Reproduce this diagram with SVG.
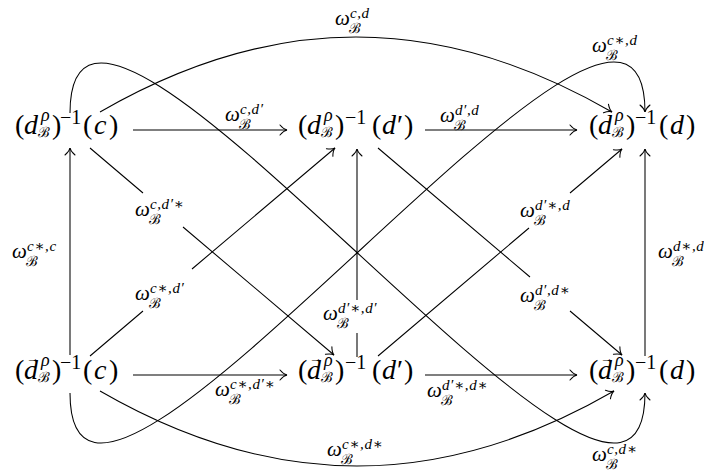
<svg xmlns="http://www.w3.org/2000/svg" width="704" height="473" viewBox="0 0 704 473">
<style>
.t{font-family:"Liberation Serif","DejaVu Serif",serif;fill:#000}
.m{font-size:28px}
.i{font-style:italic}
.sp{font-size:18px}
.mi{font-size:20px}
.cal{font-size:14px;font-style:normal}
.l{font-size:21px;font-style:italic}
.sc{font-size:15px;font-style:italic;letter-spacing:0.6px}
.vec{font-size:14px;font-style:normal}
.c line,.c path{stroke:#000;stroke-width:1.05;fill:none}
</style>
<defs>
<marker id="ah" viewBox="-8 -6 10 12" refX="0" refY="0" markerWidth="10" markerHeight="12" markerUnits="userSpaceOnUse" orient="auto">
<path d="M-7,-5 C-4.5,-2 -2,-0.4 0,0 C-2,0.4 -4.5,2 -7,5" fill="none" stroke="#000" stroke-width="1.05" stroke-linecap="round"/>
</marker>
</defs>
<rect width="704" height="473" fill="#fff"/>
<g id="connectors" class="c">
<line x1="133" y1="130" x2="287" y2="130" marker-end="url(#ah)"/>
<line x1="425" y1="130" x2="577" y2="130" marker-end="url(#ah)"/>
<line x1="133" y1="375" x2="287" y2="375" marker-end="url(#ah)"/>
<line x1="425" y1="375" x2="577" y2="375" marker-end="url(#ah)"/>
<line x1="70" y1="355" x2="70" y2="148" marker-end="url(#ah)"/>
<path d="M357,357 V333 M357,300 V149" marker-end="url(#ah)"/>
<line x1="645" y1="356" x2="645" y2="149" marker-end="url(#ah)"/>
<path d="M90,148 L143,193 M183,227 L334,355" marker-end="url(#ah)"/>
<path d="M90,356 L143,311 M192,269 L335,148" marker-end="url(#ah)"/>
<path d="M378,148 L530,277 M570,311 L622,355" marker-end="url(#ah)"/>
<path d="M378,356 L529,228 M570,193 L622,149" marker-end="url(#ah)"/>
<path d="M100,112 C273,12 439,12 612,112" marker-end="url(#ah)"/>
<path d="M100,391 C273,491 441,491 614,391" marker-end="url(#ah)"/>
<path d="M70,113 C70,-137 645,643 645,393" marker-end="url(#ah)"/>
<path d="M70,393 C70,643 645,-138 645,112" marker-end="url(#ah)"/>
</g>
<g id="labels" class="t">
<text><tspan class="l" x="335" y="25">ω</tspan><tspan class="sc" x="350" y="18">c,d</tspan><tspan class="cal" x="349" y="33">ℬ</tspan></text>
<text><tspan class="l" x="592" y="52">ω</tspan><tspan class="sc" x="607" y="45">c∗,d</tspan><tspan class="cal" x="606" y="60">ℬ</tspan></text>
<text><tspan class="l" x="225" y="121">ω</tspan><tspan class="sc" x="240" y="114">c,d′</tspan><tspan class="cal" x="239" y="129">ℬ</tspan></text>
<text><tspan class="l" x="440" y="122">ω</tspan><tspan class="sc" x="455" y="115">d′,d</tspan><tspan class="cal" x="454" y="130">ℬ</tspan></text>
<text><tspan class="l" x="135" y="216">ω</tspan><tspan class="sc" x="150" y="209">c,d′∗</tspan><tspan class="cal" x="149" y="224">ℬ</tspan></text>
<text><tspan class="l" x="135" y="300">ω</tspan><tspan class="sc" x="150" y="293">c∗,d′</tspan><tspan class="cal" x="149" y="308">ℬ</tspan></text>
<text><tspan class="l" x="520" y="302">ω</tspan><tspan class="sc" x="535" y="295">d′,d∗</tspan><tspan class="cal" x="534" y="310">ℬ</tspan></text>
<text><tspan class="l" x="520" y="217">ω</tspan><tspan class="sc" x="535" y="210">d′∗,d</tspan><tspan class="cal" x="534" y="225">ℬ</tspan></text>
<text><tspan class="l" x="323" y="320">ω</tspan><tspan class="sc" x="338" y="313">d′∗,d′</tspan><tspan class="cal" x="337" y="328">ℬ</tspan></text>
<text><tspan class="l" x="215" y="396">ω</tspan><tspan class="sc" x="230" y="389">c∗,d′∗</tspan><tspan class="cal" x="229" y="404">ℬ</tspan></text>
<text><tspan class="l" x="427" y="397">ω</tspan><tspan class="sc" x="442" y="390">d′∗,d∗</tspan><tspan class="cal" x="441" y="405">ℬ</tspan></text>
<text><tspan class="l" x="12" y="258">ω</tspan><tspan class="sc" x="27" y="251">c∗,c</tspan><tspan class="cal" x="26" y="266">ℬ</tspan></text>
<text><tspan class="l" x="658" y="258">ω</tspan><tspan class="sc" x="673" y="251">d∗,d</tspan><tspan class="cal" x="672" y="266">ℬ</tspan></text>
<text><tspan class="l" x="327" y="456">ω</tspan><tspan class="sc" x="342" y="449">c∗,d∗</tspan><tspan class="cal" x="341" y="464">ℬ</tspan></text>
<text><tspan class="l" x="592" y="461">ω</tspan><tspan class="sc" x="607" y="454">c,d∗</tspan><tspan class="cal" x="606" y="469">ℬ</tspan></text>
</g>
<g class="t">
<g id="nodeA"><text class="m"><tspan x="15" y="134">(</tspan><tspan class="i" x="24" y="134">d</tspan><tspan class="i sp" x="41" y="121">ρ</tspan><tspan class="cal" x="38" y="137">ℬ</tspan><tspan x="52" y="134">)</tspan><tspan class="mi" x="60" y="124">−1</tspan><tspan x="83" y="134">(</tspan><tspan class="i" x="94" y="134">c</tspan><tspan x="109" y="134">)</tspan></text></g>
<g id="nodeB"><text class="m"><tspan x="298" y="134">(</tspan><tspan class="i" x="307" y="134">d</tspan><tspan class="i sp" x="324" y="121">ρ</tspan><tspan class="cal" x="321" y="137">ℬ</tspan><tspan x="335" y="134">)</tspan><tspan class="mi" x="345" y="124">−1</tspan><tspan x="372" y="134">(</tspan><tspan class="i" x="382" y="134">d</tspan><tspan x="397" y="134">′</tspan><tspan x="404" y="134">)</tspan></text></g>
<g id="nodeC"><text class="m"><tspan x="589" y="134">(</tspan><tspan class="i" x="598" y="134">d</tspan><tspan class="i sp" x="615" y="121">ρ</tspan><tspan class="cal" x="612" y="137">ℬ</tspan><tspan x="626" y="134">)</tspan><tspan class="mi" x="635" y="124">−1</tspan><tspan x="659" y="134">(</tspan><tspan class="i" x="670" y="134">d</tspan><tspan x="686" y="134">)</tspan></text></g>
<g id="nodeAv"><text class="m"><tspan x="15" y="379">(</tspan><tspan class="i" x="24" y="379">d</tspan><tspan class="vec" x="26" y="363">→</tspan><tspan class="i sp" x="41" y="366">ρ</tspan><tspan class="cal" x="38" y="382">ℬ</tspan><tspan x="52" y="379">)</tspan><tspan class="mi" x="60" y="369">−1</tspan><tspan x="83" y="379">(</tspan><tspan class="i" x="94" y="379">c</tspan><tspan x="109" y="379">)</tspan></text></g>
<g id="nodeBv"><text class="m"><tspan x="298" y="379">(</tspan><tspan class="i" x="307" y="379">d</tspan><tspan class="vec" x="309" y="363">→</tspan><tspan class="i sp" x="324" y="366">ρ</tspan><tspan class="cal" x="321" y="382">ℬ</tspan><tspan x="335" y="379">)</tspan><tspan class="mi" x="345" y="369">−1</tspan><tspan x="372" y="379">(</tspan><tspan class="i" x="382" y="379">d</tspan><tspan x="397" y="379">′</tspan><tspan x="404" y="379">)</tspan></text></g>
<g id="nodeCv"><text class="m"><tspan x="589" y="379">(</tspan><tspan class="i" x="598" y="379">d</tspan><tspan class="vec" x="600" y="363">→</tspan><tspan class="i sp" x="615" y="366">ρ</tspan><tspan class="cal" x="612" y="382">ℬ</tspan><tspan x="626" y="379">)</tspan><tspan class="mi" x="635" y="369">−1</tspan><tspan x="659" y="379">(</tspan><tspan class="i" x="670" y="379">d</tspan><tspan x="686" y="379">)</tspan></text></g>
</g>
</svg>
